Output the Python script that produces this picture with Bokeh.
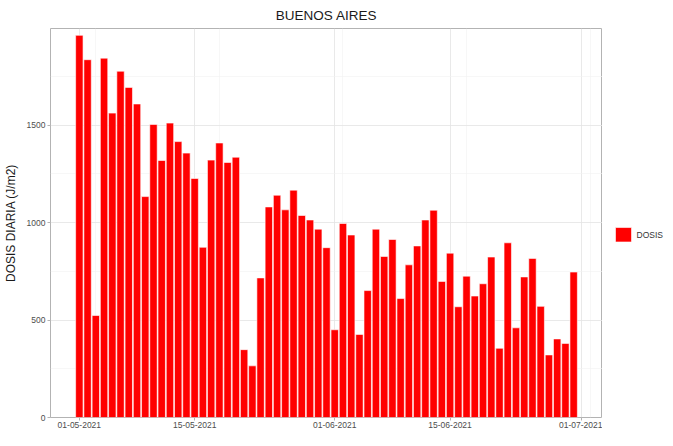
import pandas as pd
from bokeh.plotting import figure
from bokeh.layouts import row
from bokeh.models import (Range1d, FixedTicker, DatetimeTickFormatter, ColumnDataSource)
from bokeh.core.properties import value
from bokeh.embed import file_html
from bokeh.resources import INLINE

title_text = "BUENOS AIRES"
y_label = "DOSIS DIARIA (J/m2)"
series_name = "DOSIS"
start_date = "2021-05-01"
dosis = [1960, 1835, 523, 1843, 1561, 1776, 1693, 1608, 1133, 1503,
         1318, 1510, 1415, 1356, 1226, 873, 1320, 1408, 1308, 1335,
         348, 265, 716, 1080, 1140, 1065, 1166, 1036, 1013, 966,
         871, 450, 995, 936, 426, 651, 966, 826, 913, 610,
         783, 880, 1013, 1063, 698, 843, 568, 725, 623, 686,
         823, 355, 896, 460, 721, 816, 570, 321, 403, 380, 746]
x_major_dates = ["2021-05-01", "2021-05-15", "2021-06-01", "2021-06-15", "2021-07-01"]
x_minor_dates = ["2021-05-03", "2021-05-18", "2021-06-02", "2021-06-17", "2021-07-02"]
y_major = [0, 500, 1000, 1500]
y_minor = [250, 750, 1250, 1750]

dates = pd.date_range(start_date, periods=len(dosis), freq="D")
DAY = pd.Timedelta(days=1)
DAY_MS = 86400000
BAR_COLOR = "#ff0000"

def ms(d):
    return pd.Timestamp(d).value // 10**6

src = ColumnDataSource(dict(fecha=dates, dosis=dosis))

p = figure(frame_width=552, frame_height=389, output_backend="svg", toolbar_location=None,
           x_axis_type="datetime",
           x_range=Range1d(dates[0] - 3.5 * DAY, dates[0] + 63.5 * DAY),
           y_range=Range1d(0, 1995))
p.min_border_left = 43
p.min_border_right = 0
p.min_border_top = 0
p.min_border_bottom = 0
p.background_fill_color = "white"
p.border_fill_color = "white"
p.outline_line_color = "#b3b3b3"
p.outline_line_width = 1

r = p.vbar(x="fecha", top="dosis", width=0.9 * DAY_MS, source=src,
           fill_color=BAR_COLOR, fill_alpha=1.0, line_color="white", line_width=0.6)

# title
p.title.text = title_text
p.title.align = "center"
p.title.text_font = "Liberation Sans"
p.title.text_font_size = "13.5px"
p.title.text_font_style = "normal"
p.title.text_color = "#1a1a1a"
p.title.standoff = 11

# x axis
xt = FixedTicker(ticks=[ms(d) for d in x_major_dates],
                 minor_ticks=[ms(d) for d in x_minor_dates])
p.xaxis.ticker = xt
p.xgrid.ticker = xt
fmt = "%d-%m-%Y"
p.xaxis.formatter = DatetimeTickFormatter(
    milliseconds=fmt, seconds=fmt, minsec=fmt, minutes=fmt, hourmin=fmt,
    hours=fmt, days=fmt, months=fmt, years=fmt)

# y axis
yt = FixedTicker(ticks=y_major, minor_ticks=y_minor)
p.yaxis.ticker = yt
p.ygrid.ticker = yt
p.yaxis.axis_label = y_label
p.yaxis.axis_label_text_font = "Liberation Sans"
p.yaxis.axis_label_text_font_size = "12px"
p.yaxis.axis_label_text_font_style = "normal"
p.yaxis.axis_label_text_color = "#1a1a1a"
p.yaxis.axis_label_standoff = 6

for ax in (p.xaxis, p.yaxis):
    ax.axis_line_color = None
    ax.major_tick_line_color = "#b3b3b3"
    ax.major_tick_out = 3
    ax.major_tick_in = 0
    ax.minor_tick_out = 0
    ax.minor_tick_in = 0
    ax.major_label_text_font = "Liberation Sans"
    ax.major_label_text_font_size = "8.5px"
    ax.major_label_text_color = "#4d4d4d"
    ax.major_label_standoff = 2
p.xaxis.major_label_standoff = 1

for g in (p.xgrid, p.ygrid):
    g.grid_line_color = "#e3e3e3"
    g.grid_line_width = 0.8
    g.minor_grid_line_color = "#f1f1f1"
    g.minor_grid_line_width = 0.6
    g.level = "underlay"

# legend panel (separate small figure to the right)
LW, LH = 62, 430
lg = figure(width=LW, height=LH, output_backend="svg", toolbar_location=None,
            x_range=Range1d(0, LW), y_range=Range1d(0, LH),
            x_axis_location=None, y_axis_location=None,
            min_border=0)
lg.outline_line_color = None
lg.grid.visible = False
lg.background_fill_color = "white"
lg.border_fill_color = "white"
lg.rect(x=[21], y=[LH - 228], width=16, height=16,
        fill_color=BAR_COLOR, line_color="white", line_width=0.6)
lg.text(x=[34], y=[LH - 228], text=[series_name], text_baseline="middle",
        text_align="left", text_font=value("Liberation Sans"),
        text_font_size="8.5px", text_color="#333333")

layout = row(p, lg)
open("out.html", "w").write(file_html(layout, INLINE))
